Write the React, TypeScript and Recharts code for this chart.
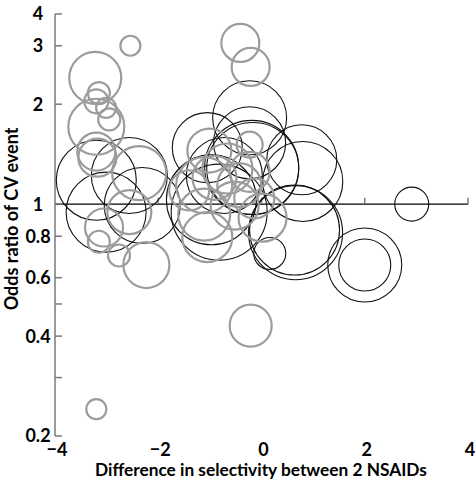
import {
  ScatterChart,
  Scatter,
  XAxis,
  YAxis,
  ZAxis,
  ReferenceLine,
  Label,
} from "recharts";

// x = difference in selectivity, y = odds ratio, w = study weight (bubble area)
const grayStudies = [
  { x: -2.54, y: 3.0, w: 100 },
  { x: -3.22, y: 2.4, w: 676 },
  { x: -3.15, y: 2.16, w: 121 },
  { x: -3.2, y: 2.04, w: 144 },
  { x: -3.01, y: 1.95, w: 100 },
  { x: -2.95, y: 1.8, w: 121 },
  { x: -3.2, y: 1.71, w: 784 },
  { x: -3.2, y: 1.44, w: 361 },
  { x: -3.18, y: 1.38, w: 361 },
  { x: -2.37, y: 1.24, w: 729 },
  { x: -2.56, y: 0.946, w: 484 },
  { x: -3.05, y: 0.85, w: 361 },
  { x: -3.15, y: 0.77, w: 121 },
  { x: -2.76, y: 0.7, w: 121 },
  { x: -2.23, y: 0.655, w: 529 },
  { x: -3.2, y: 0.241, w: 100 },
  { x: -0.41, y: 3.06, w: 361 },
  { x: -0.21, y: 2.59, w: 361 },
  { x: -0.23, y: 1.51, w: 169 },
  { x: -1.01, y: 1.45, w: 484 },
  { x: -0.66, y: 1.28, w: 625 },
  { x: -1.11, y: 1.14, w: 784 },
  { x: -0.91, y: 1.2, w: 484 },
  { x: -0.43, y: 1.14, w: 484 },
  { x: -0.23, y: 1.25, w: 400 },
  { x: -0.52, y: 0.99, w: 576 },
  { x: -1.11, y: 0.93, w: 676 },
  { x: -0.14, y: 1.04, w: 400 },
  { x: 0.02, y: 0.91, w: 576 },
  { x: -1.05, y: 0.795, w: 625 },
  { x: -0.21, y: 0.43, w: 441 },
  { x: -1.4, y: 1.1, w: 400 },
];

const blackStudies = [
  { x: -3.2, y: 1.18, w: 1600 },
  { x: -2.56, y: 1.22, w: 1444 },
  { x: -3.01, y: 0.946, w: 1600 },
  { x: -2.31, y: 0.99, w: 1444 },
  { x: -0.23, y: 1.82, w: 1369 },
  { x: -0.23, y: 1.53, w: 1296 },
  { x: -1.05, y: 1.48, w: 1225 },
  { x: -0.19, y: 1.29, w: 2209 },
  { x: -0.17, y: 1.28, w: 2116 },
  { x: 0.78, y: 1.36, w: 1225 },
  { x: 0.8, y: 1.17, w: 1600 },
  { x: -0.97, y: 1.03, w: 2025 },
  { x: -0.82, y: 0.946, w: 2304 },
  { x: 0.64, y: 0.835, w: 2025 },
  { x: 0.66, y: 0.82, w: 2209 },
  { x: 0.16, y: 0.71, w: 256 },
  { x: 2.0, y: 0.655, w: 1369 },
  { x: 2.0, y: 0.655, w: 676 },
  { x: 2.91, y: 1.0, w: 289 },
  { x: -0.72, y: 1.22, w: 1444 },
];

const xTicks = [-4, -2, 0, 2, 4];
// the top tick of the original sits a bit below 4 on the log scale, but is labelled "4"
const yTop = 3.74;
const yTicks = [0.2, 0.3, 0.4, 0.5, 0.6, 0.7, 0.8, 0.9, 1, 2, 3, yTop];
const yTickLabels: Record<number, string> = {
  0.2: "0.2",
  0.4: "0.4",
  0.6: "0.6",
  0.8: "0.8",
  1: "1",
  2: "2",
  3: "3",
  [yTop]: "4",
};

const FONT = "Lato, 'DejaVu Sans', sans-serif";
const AXIS_GREY = "#7a7a7a";

// ticks point into the plot, labels sit left of the axis
const YTick = (props: any) => {
  const { x, y, payload } = props;
  const axisX = x + 10; // tickSize + tickMargin
  const label = yTickLabels[payload.value];
  return (
    <g>
      <line x1={axisX} x2={axisX + 7} y1={y} y2={y} stroke={AXIS_GREY} strokeWidth={1.5} />
      {label && (
        <text
          x={axisX - 17}
          y={y}
          dy="0.36em"
          textAnchor="middle"
          fontFamily={FONT}
          fontWeight={700}
          fontSize={18}
          fill="#000"
        >
          {label}
        </text>
      )}
    </g>
  );
};

export default function App() {
  return (
    <div style={{ position: "absolute", left: 0, top: 0, background: "#fff" }}>
      <ScatterChart
        width={476}
        height={482}
        margin={{ top: 14, right: 8, left: 0, bottom: 16 }}
      >
        <XAxis
          type="number"
          dataKey="x"
          domain={[-4, 4]}
          ticks={xTicks}
          axisLine={false}
          tickLine={false}
          tickSize={2}
          tickMargin={5}
          height={30}
          tickFormatter={(v: number) => (v < 0 ? `\u2212${Math.abs(v)}` : `${v}`)}
          tick={{ fontFamily: FONT, fontWeight: 700, fontSize: 18, fill: "#000", dx: 2 }}
        >
          <Label
            content={() => (
              <text
                x={261}
                y={476}
                textAnchor="middle"
                fontFamily={FONT}
                fontWeight={700}
                fontSize={17.3}
                fill="#000"
              >
                Difference in selectivity between 2 NSAIDs
              </text>
            )}
          />
        </XAxis>
        <YAxis
          type="number"
          dataKey="y"
          scale="log"
          domain={[0.2, yTop]}
          ticks={yTicks}
          allowDataOverflow
          width={55}
          tickSize={6}
          tickMargin={4}
          tickLine={false}
          axisLine={{ stroke: AXIS_GREY, strokeWidth: 1.5 }}
          tick={<YTick />}
        >
          <Label
            content={() => (
              <text
                x={18}
                y={219}
                transform="rotate(-90, 18, 219)"
                textAnchor="middle"
                fontFamily={FONT}
                fontWeight={700}
                fontSize={18}
                fill="#000"
              >
                Odds ratio of CV event
              </text>
            )}
          />
        </YAxis>
        <ZAxis type="number" dataKey="w" domain={[0, 2500]} range={[0, 2500 * Math.PI]} />
        <Scatter
          data={blackStudies}
          shape="circle"
          fill="none"
          stroke="#111"
          strokeWidth={1.1}
          isAnimationActive={false}
        />
        <Scatter
          data={grayStudies}
          shape="circle"
          fill="none"
          stroke="#9c9c9c"
          strokeWidth={2.2}
          isAnimationActive={false}
        />
        <ReferenceLine y={1} stroke="#000" strokeWidth={1.3} />
        {xTicks.slice(1).map((t) => (
          <ReferenceLine
            key={t}
            segment={[
              { x: t, y: 1 },
              { x: t, y: 1.045 },
            ]}
            stroke={AXIS_GREY}
            strokeWidth={1.5}
          />
        ))}
      </ScatterChart>
    </div>
  );
}
